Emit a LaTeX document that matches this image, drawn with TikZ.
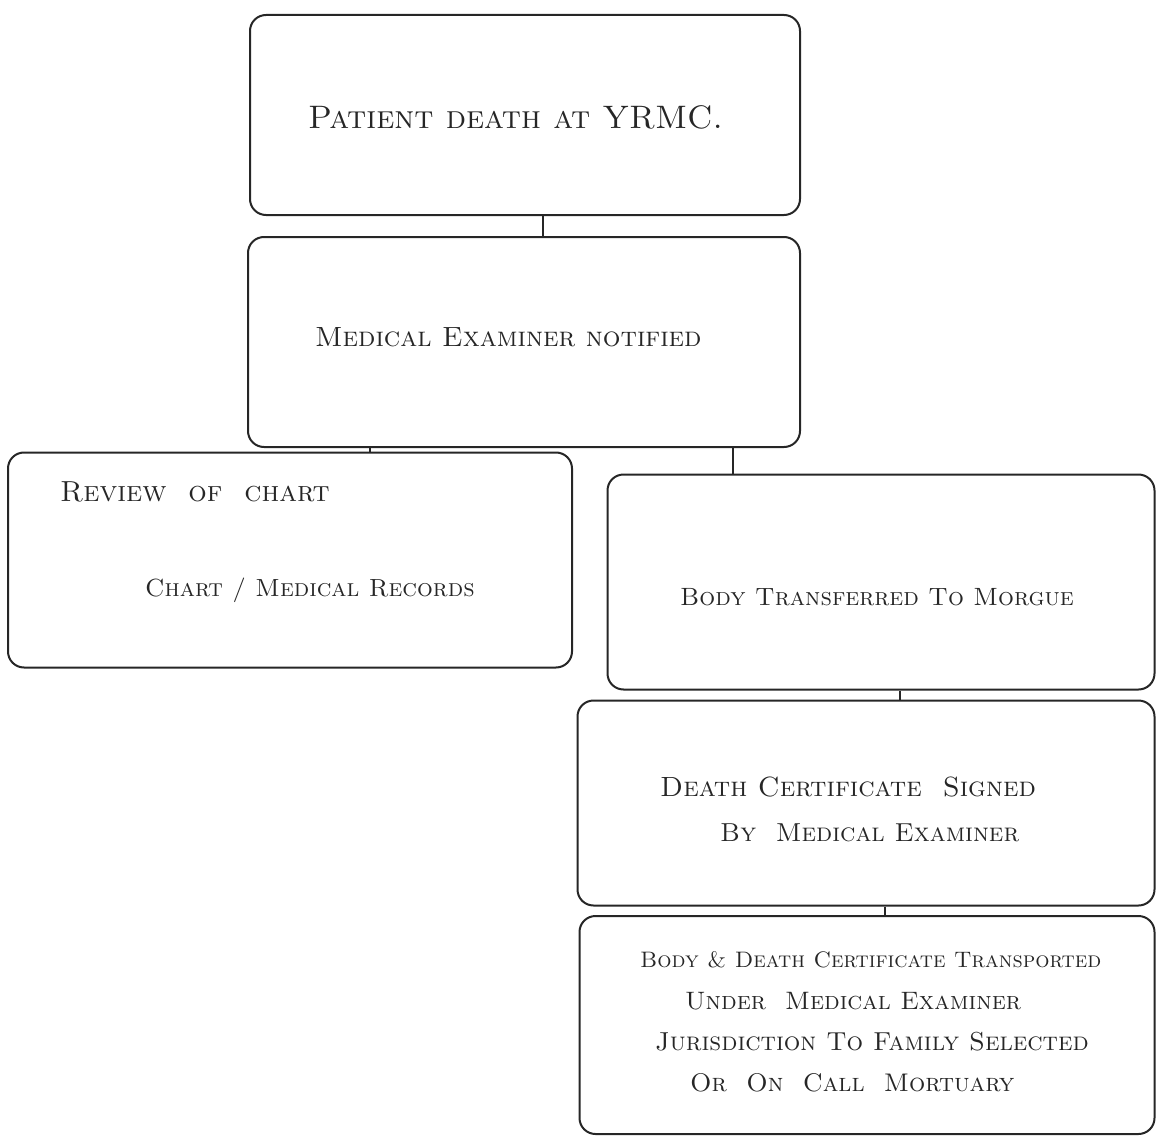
\documentclass[tikz,border=0pt]{standalone}
\usetikzlibrary{positioning}
\begin{document}
\begin{tikzpicture}[x=1pt,y=-1pt,
  box/.style={draw=black!85, line width=2pt, rounded corners=16pt, rectangle, inner sep=0pt},
  hand/.style={font=\fontsize{#1}{#1}\selectfont\scshape, inner sep=0pt, anchor=west, text=black!85},
  hand/.default=28,
  link/.style={draw=black!85, line width=1.8pt}]
\useasboundingbox (0,0) rectangle (1160,1145);
% boxes
\node[box, minimum width=550pt, minimum height=200pt] (b1) at (525,115) {};
\node[box, minimum width=552pt, minimum height=210pt] (b2) at (524,342) {};
\node[box, minimum width=564pt, minimum height=215pt] (b3) at (290,560) {};
\node[box, minimum width=547pt, minimum height=215pt] (b4) at (881,582) {};
\node[box, minimum width=577pt, minimum height=205pt] (b5) at (866,803) {};
\node[box, minimum width=575pt, minimum height=218pt] (b6) at (867,1025) {};
% texts
\node[hand=32.5] (t1) at (308,117) {Patient death at YRMC.};
\node[hand=27.8] (t2) at (315,337) {Medical Examiner notified};
\node[hand=29] (t3a) at (60,492) {Review \ of \ chart};
\node[hand=24.8] (t3b) at (145,590) {Chart / Medical Records};
\node[hand=25] (t4) at (680,597) {Body Transferred To Morgue};
\node[hand=27.8] (t5a) at (660,787) {Death Certificate \ Signed};
\node[hand=26] (t5b) at (720,833) {By \ Medical Examiner};
\node[hand=22.4] (t6a) at (640,960) {Body \& Death Certificate Transported};
\node[hand=25.2] (t6b) at (685,1001) {Under \ Medical Examiner};
\node[hand=26] (t6c) at (655,1042) {Jurisdiction To Family Selected};
\node[hand=25.5] (t6d) at (690,1083) {Or \ On \ Call \ Mortuary};
% junction coordinates
\coordinate (j1) at (543,0);
\coordinate (j2) at (370,0);
\coordinate (j3) at (733,0);
\coordinate (j4) at (900,0);
\coordinate (j5) at (885,0);
% connectors
\draw[link] (b1.south -| j1) -- (b2.north -| j1);
\draw[link] (b2.south -| j2) -- (b3.north -| j2);
\draw[link] (b2.south -| j3) -- (b4.north -| j3);
\draw[link] (b4.south -| j4) -- (b5.north -| j4);
\draw[link] (b5.south -| j5) -- (b6.north -| j5);
\end{tikzpicture}
\end{document}
